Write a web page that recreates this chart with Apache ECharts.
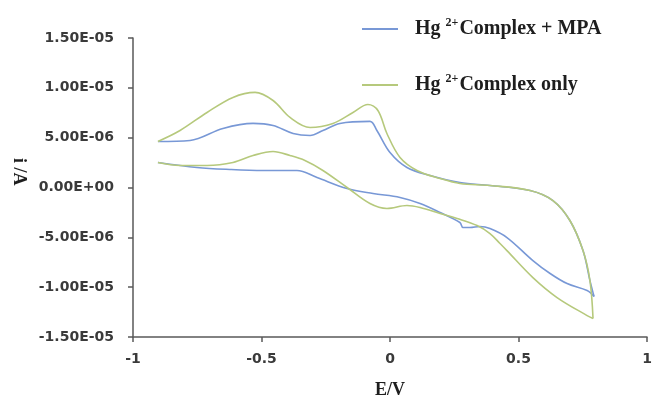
<!DOCTYPE html>
<html lang="en">
<head>
    <meta charset="UTF-8">
    <title>CV Hg2+ Complex</title>
    <script src="https://cdn.jsdelivr.net/npm/echarts@6/dist/echarts.min.js"></script>
    <style>
        html, body { margin: 0; padding: 0; background: #fff; }
        #charts { width: 653px; height: 399px; }
    </style>
</head>
<body>
<div id="charts"></div>

<script>
    // E / V and i / µA (forward scan, then reverse scan)
    var mpaFwdE = [-0.903, -0.778, -0.650, -0.533, -0.455, -0.377, -0.311, -0.261, -0.195, -0.078, -0.051, 0.000, 0.066, 0.156, 0.272, 0.389, 0.545, 0.634, 0.700, 0.751, 0.778, 0.794];
    var mpaFwdI = [4.62, 4.72, 5.92, 6.43, 6.22, 5.42, 5.22, 5.72, 6.43, 6.63, 5.72, 3.51, 2.01, 1.20, 0.50, 0.20, -0.30, -1.31, -3.31, -6.33, -9.34, -10.94];
    var mpaRevE = [0.794, 0.767, 0.689, 0.623, 0.556, 0.455, 0.389, 0.350, 0.311, 0.284, 0.272, 0.195, 0.117, 0.039, -0.066, -0.167, -0.284, -0.362, -0.494, -0.623, -0.751, -0.903];
    var mpaRevI = [-10.94, -10.34, -9.64, -8.63, -7.33, -5.02, -4.12, -3.92, -4.02, -4.02, -3.51, -2.51, -1.61, -1.00, -0.60, -0.10, 1.00, 1.71, 1.71, 1.81, 2.01, 2.51];

    var onlyFwdE = [-0.903, -0.817, -0.712, -0.611, -0.525, -0.455, -0.389, -0.311, -0.222, -0.144, -0.086, -0.047, -0.012, 0.039, 0.105, 0.195, 0.272, 0.389, 0.545, 0.634, 0.700, 0.751, 0.778, 0.790];
    var onlyFwdI = [4.62, 5.72, 7.53, 9.04, 9.54, 8.73, 7.03, 6.02, 6.43, 7.53, 8.33, 7.73, 5.42, 3.01, 1.71, 0.90, 0.40, 0.20, -0.30, -1.31, -3.31, -6.33, -9.34, -13.15];
    var onlyRevE = [0.790, 0.767, 0.650, 0.556, 0.455, 0.428, 0.389, 0.339, 0.261, 0.195, 0.117, 0.066, -0.012, -0.078, -0.167, -0.261, -0.331, -0.389, -0.455, -0.533, -0.611, -0.712, -0.817, -0.903];
    var onlyRevI = [-13.15, -12.85, -11.04, -9.04, -6.33, -5.62, -4.62, -3.82, -3.11, -2.61, -2.01, -1.81, -2.11, -1.61, 0.00, 1.71, 2.71, 3.21, 3.61, 3.21, 2.51, 2.21, 2.21, 2.51];

    var xTicks = [-1, 1, 0.5];          // min, max, interval
    var yTicks = [-1.5e-5, 1.5e-5, 5e-6];

    var blue = '#7898d6';
    var green = '#b6c97c';
    var serif = '"Liberation Serif", "Times New Roman", serif';

    function pairs(es, is) {
        var out = [];
        for (var k = 0; k < es.length; k++) {
            out.push([es[k], is[k] * 1e-6]);
        }
        return out;
    }

    function sci(v) {
        if (Math.abs(v) < 1e-12) return '0.00E+00';
        var s = v.toExponential(2).toUpperCase();
        return s.replace(/E([+-])(\d+)$/, function (m, sg, d) {
            return 'E' + sg + (d.length < 2 ? '0' + d : d);
        });
    }

    function cv(name, color, data) {
        return {
            name: name,
            type: 'line',
            data: data,
            smooth: 0.35,
            symbol: 'none',
            lineStyle: { color: color, width: 1.6 },
            itemStyle: { color: color }
        };
    }

    var myChart = echarts.init(document.getElementById('charts'));

    var option = {
        animation: false,
        backgroundColor: '#fff',
        grid: { left: 133, right: 6, top: 38, bottom: 62, outerBoundsMode: 'none' },
        legend: {
            orient: 'vertical',
            left: 357,
            top: 12,
            icon: 'rect',
            itemWidth: 36,
            itemHeight: 2,
            itemGap: 34,
            data: ['Hg 2+ Complex + MPA', 'Hg 2+ Complex only'],
            formatter: function (n) {
                return '{b|Hg }{s|2+}{b|' + n.replace('Hg 2+ ', '') + '}';
            },
            textStyle: {
                padding: [0, 0, 0, 12],
                rich: {
                    b: { fontFamily: serif, fontWeight: 'bold', fontSize: 20, lineHeight: 24, color: '#1e1e1e' },
                    s: { fontFamily: serif, fontWeight: 'bold', fontSize: 12, lineHeight: 24, color: '#1e1e1e', verticalAlign: 'top', padding: [0, 1, 10, 0] }
                }
            }
        },
        graphic: [{
            type: 'text',
            left: 10,
            top: 158,
            rotation: -Math.PI / 2,
            style: { text: 'i /A', fontFamily: serif, fontWeight: 'bold', fontSize: 18, fill: '#1e1e1e' }
        }],
        xAxis: {
            type: 'value',
            min: xTicks[0],
            max: xTicks[1],
            interval: xTicks[2],
            name: 'E/V',
            nameLocation: 'middle',
            nameGap: 44,
            nameTextStyle: { fontFamily: serif, fontWeight: 'bold', fontSize: 18, color: '#1e1e1e' },
            splitLine: { show: false },
            axisLine: { onZero: false, lineStyle: { color: '#595959', width: 1.5 } },
            axisTick: { length: 5, lineStyle: { color: '#595959', width: 1.5 } },
            axisLabel: { margin: 15, fontFamily: 'DejaVu Sans', fontWeight: 'bold', fontSize: 14, color: '#3a3a3a' }
        },
        yAxis: {
            type: 'value',
            min: yTicks[0],
            max: yTicks[1],
            interval: yTicks[2],
            splitLine: { show: false },
            axisLine: { show: true, onZero: false, lineStyle: { color: '#595959', width: 1.5 } },
            axisTick: { show: true, length: 5, lineStyle: { color: '#595959', width: 1.5 } },
            axisLabel: { margin: 19, formatter: sci, fontFamily: 'DejaVu Sans', fontWeight: 'bold', fontSize: 14, color: '#3a3a3a' }
        },
        series: [
            cv('Hg 2+ Complex + MPA', blue, pairs(mpaFwdE, mpaFwdI)),
            cv('Hg 2+ Complex + MPA', blue, pairs(mpaRevE, mpaRevI)),
            cv('Hg 2+ Complex only', green, pairs(onlyFwdE, onlyFwdI)),
            cv('Hg 2+ Complex only', green, pairs(onlyRevE, onlyRevI))
        ]
    };

    myChart.setOption(option);
</script>
</body>
</html>
